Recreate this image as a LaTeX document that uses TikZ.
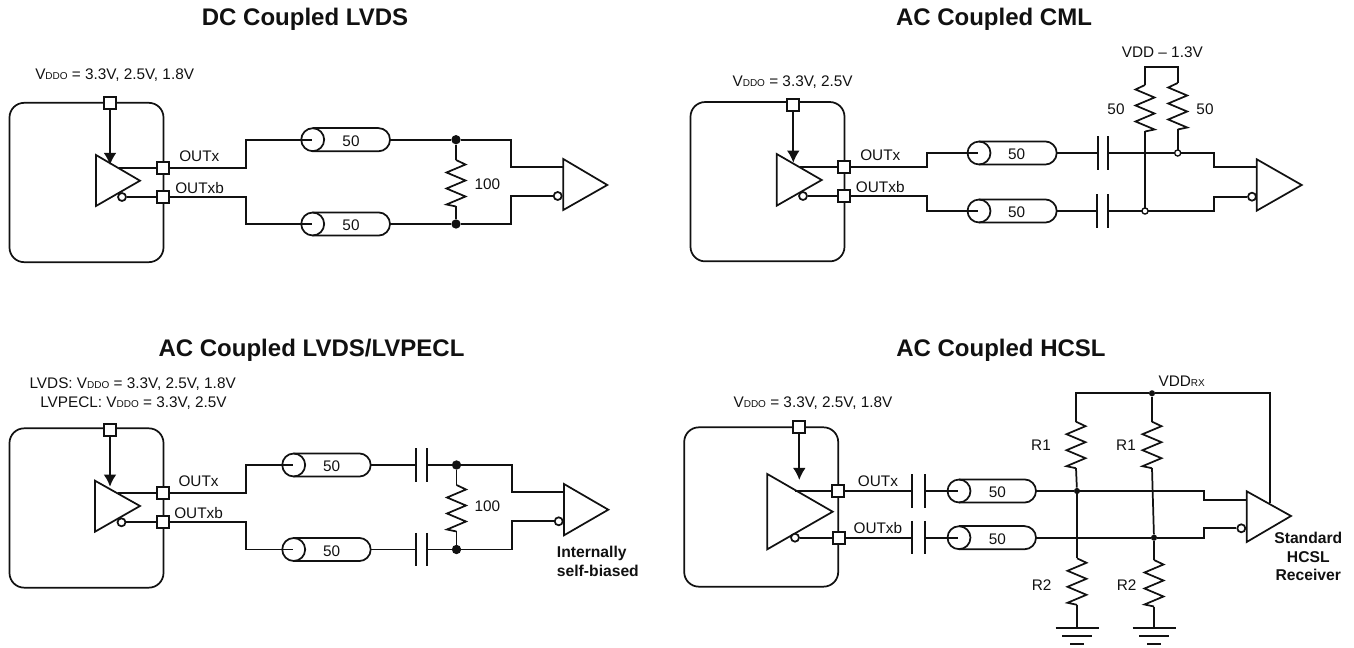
\documentclass[tikz,border=0pt]{standalone}
\usepackage{fontspec}
\setmainfont{Liberation Sans}
\usetikzlibrary{arrows.meta}
\definecolor{ink}{HTML}{111111}
\tikzset{
  x=0.75pt,y=-0.75pt,
  every node/.style={text=ink},
  wire/.style={draw=ink,line width=1.3pt,line join=miter},
  chip/.style={draw=ink,line width=1.3pt,rounded corners=11pt,minimum width=115.5pt,minimum height=119.5pt,inner sep=0pt},
  pin/.style={draw=ink,line width=1.3pt,fill=white,minimum size=9pt,inner sep=0pt},
  jdot/.style={circle,fill=ink,minimum size=7pt,inner sep=0pt},
  sdot/.style={circle,fill=ink,minimum size=4.6pt,inner sep=0pt},
  odot/.style={circle,draw=ink,line width=1pt,fill=white,minimum size=4.6pt,inner sep=0pt},
  bub/.style={circle,draw=ink,line width=1.3pt,fill=white,minimum size=6pt,inner sep=0pt},
  coaxc/.style={circle,draw=ink,line width=1.3pt,minimum size=17.2pt,inner sep=0pt},
  lab/.style={inner sep=0pt,font=\fontsize{11.5}{13}\selectfont,text height=8.2pt,text depth=0pt},
  labl/.style={lab,anchor=west},
  blab/.style={inner sep=0pt,font=\fontsize{11.75}{13}\selectfont\bfseries,text height=8.4pt,text depth=0pt},
  ttl/.style={inner sep=0pt,font=\fontsize{18}{21}\selectfont\bfseries,text height=12.9pt,text depth=0pt},
  arr/.style={wire,-{Latex[length=9pt,width=9.5pt]}},
}
\newcommand{\vddo}{V{\fontsize{7.5}{9}\selectfont DDO}}
% \Coax{name}{circle cx}{cy}{right end x}{text x}
\newcommand{\Coax}[5]{%
  \draw[wire] (#2,#3-11.6) -- (#4-11.6,#3-11.6) arc (90:-90:8.7pt) -- (#2,#3+11.6);
  \node[coaxc] (#1c) at (#2,#3) {};
  \coordinate (#1) at (#2-1,#3);
  \coordinate (#1o) at (#4,#3);
  \node[lab] (#1t) at (#5,#3+1.5) {50};
}
% \Res{name}{x}{y0}{side} zigzag 46.5 px long, first peak towards side (+1 right, -1 left)
\newcommand{\Res}[4]{%
  \coordinate (#1a) at (#2,#3);
  \coordinate (#1b) at (#2,#3+46.5);
  \draw[wire,line join=miter] (#1a) -- (#2+#4*9.5,#3+4.5) -- (#2-#4*9.5,#3+12.5) -- (#2+#4*9.5,#3+20.5) -- (#2-#4*9.5,#3+28.5) -- (#2+#4*9.5,#3+36.5) -- (#2-#4*9.5,#3+44.5) -- (#1b);
}
% \Cap{name}{x1}{x2}{y}
\newcommand{\CapC}[4]{%
  \coordinate (#1a) at (#2,#4);
  \coordinate (#1b) at (#3,#4);
  \draw[wire] (#2,#4-16.7) -- (#2,#4+16.7);
  \draw[wire] (#3,#4-16.7) -- (#3,#4+16.7);
}
% \Tri{name}{x}{top}{tipx}{tipy}{bot}
\newcommand{\Tri}[6]{%
  \coordinate (#1t) at (#2,#3);
  \coordinate (#1p) at (#4,#5);
  \coordinate (#1b) at (#2,#6);
  \draw[wire,line join=miter] (#1t) -- (#1p) -- (#1b) -- cycle;
}
\newcommand{\Gnd}[3]{%
  \coordinate (#1) at (#2,#3);
  \draw[wire] (#2-21.5,#3) -- (#2+21.5,#3);
  \draw[wire] (#2-15,#3+8) -- (#2+15,#3+8);
  \draw[wire] (#2-7,#3+15.7) -- (#2+7,#3+15.7);
}
\begin{document}
\begin{tikzpicture}
\useasboundingbox (0,0) rectangle (1354,648);
% ---------- Panel 1
\node[ttl] (t1) at (305,17) {DC Coupled LVDS};
\node[labl] (v1) at (35,74) {\vddo{} = 3.3V, 2.5V, 1.8V};
\node[chip] (b1) at (86.5,182.5) {};
\Tri{a1}{96}{155}{140}{180.7}{206}
\node[pin] (a1v) at (110,102.7) {};
\node[pin] (a1x) at (163,167.7) {};
\node[pin] (a1y) at (163,197) {};
\coordinate (a1i) at (119,167.7);
\node[bub] (a1n) at (122,197) {};
\draw[arr] (a1v) -- (110,165);
\draw[wire] (a1i) -- (a1x);
\draw[wire] (a1n) -- (a1y);
\node[labl] at (179,155.7) {OUTx};
\node[labl] at (175,188.3) {OUTxb};
\Coax{a1c}{312.7}{139.7}{390}{351}
\Coax{a1d}{312.7}{224}{390}{351}
\draw[wire] (a1x) -- (246,167.7) -- (246,139.7) -- (a1c);
\draw[wire] (a1y) -- (246,197) -- (246,224) -- (a1d);
\node[jdot] (a1j) at (456,139.7) {};
\node[jdot] (a1k) at (456,224) {};
\Res{a1r}{456}{160}{1}
\draw[wire] (a1j) -- (a1ra);
\draw[wire] (a1rb) -- (a1k);
\node[lab] at (487.3,184) {100};
\Tri{a2}{563.3}{159}{607.3}{185}{210}
\node[bub] (a2n) at (557.7,196) {};
\draw[wire] (a1co) -- (a1j) -- (511,139.7) -- (511,167) -- (563.3,167);
\draw[wire] (a1do) -- (a1k) -- (511,224) -- (511,196) -- (a2n);
% ---------- Panel 2
\node[ttl] (t2) at (994,17) {AC Coupled CML};
\node[labl] (v2) at (732.3,81) {\vddo{} = 3.3V, 2.5V};
\node[chip] (b2) at (767.5,181.7) {};
\Tri{b1t}{776.7}{154}{821.7}{180}{205.7}
\node[pin] (b1v) at (793.3,105.3) {};
\node[pin] (b1x) at (844.3,166.7) {};
\node[pin] (b1y) at (844.3,196) {};
\coordinate (b1i) at (800,166.7);
\node[bub] (b1n) at (803,196) {};
\draw[arr] (b1v) -- (793.3,162.7);
\draw[wire] (b1i) -- (b1x);
\draw[wire] (b1n) -- (b1y);
\node[labl] at (860,155) {OUTx};
\node[labl] at (855.7,186.7) {OUTxb};
\Coax{b1c}{979}{153}{1056.7}{1016.7}
\Coax{b1d}{979}{211}{1056.7}{1016.7}
\draw[wire] (b1x) -- (927,166.7) -- (927,153) -- (b1c);
\draw[wire] (b1y) -- (927,196) -- (927,211) -- (b1d);
\CapC{b1e}{1097.7}{1108.3}{153}
\CapC{b1f}{1097.3}{1107.7}{211}
\draw[wire] (b1co) -- (b1ea);
\draw[wire] (b1do) -- (b1fa);
\Tri{b2t}{1256.7}{159.3}{1301.7}{185}{210.7}
\node[bub] (b2n) at (1252,196.7) {};
\coordinate (b1jc) at (1177.7,153);
\coordinate (b1kc) at (1145,211);
\draw[wire] (b1eb) -- (b1jc) -- (1213.7,153) -- (1213.7,167.3) -- (1256.7,167.3);
\draw[wire] (b1fb) -- (b1kc) -- (1213.7,211) -- (1213.7,196.7) -- (b2n);
\Res{b1r}{1145}{85}{-1}
\Res{b1s}{1177.7}{83}{-1}
\draw[wire] (b1ra) -- (1145,67.3) -- (1177.7,67.3) -- (b1sa);
\draw[wire] (b1rb) -- (b1kc);
\draw[wire] (b1sb) -- (b1jc);
\node[odot] (b1j) at (b1jc) {};
\node[odot] (b1k) at (b1kc) {};
\node[lab] at (1162.3,51.7) {VDD – 1.3V};
\node[lab] at (1116,109) {50};
\node[lab] at (1205,109) {50};
% ---------- Panel 3
\node[ttl] (t3) at (311.5,348) {AC Coupled LVDS/LVPECL};
\node[labl] (v3) at (29.3,382.7) {LVDS: \vddo{} = 3.3V, 2.5V, 1.8V};
\node[labl] (v4) at (40,401.7) {LVPECL: \vddo{} = 3.3V, 2.5V};
\node[chip] (b3) at (86.5,508) {};
\Tri{c1t}{95}{480.7}{140}{506}{531.7}
\node[pin] (c1v) at (110,430) {};
\node[pin] (c1x) at (163,492.7) {};
\node[pin] (c1y) at (163,522.3) {};
\coordinate (c1i) at (118,492.7);
\node[bub] (c1n) at (121.5,522.3) {};
\draw[arr] (c1v) -- (110,486.7);
\draw[wire] (c1i) -- (c1x);
\draw[wire] (c1n) -- (c1y);
\node[labl] at (178.3,481) {OUTx};
\node[labl] at (174,512.7) {OUTxb};
\Coax{c1c}{293.7}{465}{370.7}{331.7}
\Coax{c1d}{293.7}{549.5}{370.7}{331.7}
\draw[wire] (c1x) -- (245.7,492.7) -- (245.7,465) -- (c1c);
\draw[wire] (c1y) -- (245.7,522.3) -- (245.7,549.5) -- (c1d);
\CapC{c1e}{416.3}{427.3}{465}
\CapC{c1f}{415.7}{426.7}{549.5}
\draw[wire] (c1co) -- (c1ea);
\draw[wire] (c1do) -- (c1fa);
\node[jdot] (c1j) at (456.5,465) {};
\node[jdot] (c1k) at (456.5,549.5) {};
\Res{c1r}{456.5}{485}{1}
\draw[wire] (c1j) -- (c1ra);
\draw[wire] (c1rb) -- (c1k);
\node[lab] at (487.3,506) {100};
\Tri{c2t}{564}{484}{608.3}{509.7}{535.3}
\node[bub] (c2n) at (558.7,521.3) {};
\draw[wire] (c1eb) -- (c1j) -- (512.3,465) -- (512.3,492.3) -- (564,492.3);
\draw[wire] (c1fb) -- (c1k) -- (512.3,549.5) -- (512.3,521.3) -- (c2n);
\node[blab,anchor=west] at (556.7,552.3) {Internally};
\node[blab,anchor=west] at (556.7,570.7) {self-biased};
% ---------- Panel 4
\node[ttl] (t4) at (1001,348) {AC Coupled HCSL};
\node[labl] (v5) at (733.3,401.7) {\vddo{} = 3.3V, 2.5V, 1.8V};
\node[chip] (b4) at (761.2,507) {};
\Tri{d1t}{767.3}{474}{832.7}{511.7}{549.3}
\node[pin] (d1v) at (799.3,427.3) {};
\node[pin] (d1x) at (838,491) {};
\node[pin] (d1y) at (839.3,537.7) {};
\coordinate (d1i) at (795,491);
\node[bub] (d1n) at (795,537.7) {};
\draw[arr] (d1v) -- (799.3,480);
\draw[wire] (d1i) -- (d1x);
\draw[wire] (d1n) -- (d1y);
\node[labl] at (857.7,480.7) {OUTx};
\node[labl] at (853.3,527.7) {OUTxb};
\CapC{d1e}{911.7}{925.3}{491}
\CapC{d1f}{911.7}{925.3}{537.7}
\draw[wire] (d1x) -- (d1ea);
\draw[wire] (d1y) -- (d1fa);
\Coax{d1c}{959}{491}{1036}{997.3}
\Coax{d1d}{959}{537.7}{1036}{997.3}
\draw[wire] (d1eb) -- (d1c);
\draw[wire] (d1fb) -- (d1d);
\Tri{d2t}{1246.7}{491.3}{1291}{516}{542}
\node[bub] (d2n) at (1241.3,528.3) {};
\node[sdot] (d1p) at (1077,491) {};
\node[sdot] (d1q) at (1154,537.7) {};
\node[sdot] (d1r) at (1152,393.3) {};
\draw[wire] (d1co) -- (d1p) -- (1204,491) -- (1204,500) -- (1246.7,500);
\draw[wire] (d1do) -- (d1q) -- (1204,537.7) -- (1204,528.3) -- (d2n);
\Res{d1s}{1076}{421.7}{1}
\Res{d1u}{1152}{421.7}{1}
\Res{d1v}{1077}{558.3}{1}
\Res{d1w}{1154}{560}{1}
\draw[wire] (d1sa) -- (1076,393.3) -- (d1r) -- (1270,393.3) -- (1270,502.7);
\draw[wire] (d1r) -- (d1ua);
\draw[wire] (d1sb) -- (d1p);
\draw[wire] (d1ub) -- (d1q);
\draw[wire] (d1p) -- (d1va);
\draw[wire] (d1q) -- (d1wa);
\Gnd{g1}{1077}{628.3}
\Gnd{g2}{1154}{628.3}
\draw[wire] (d1vb) -- (g1);
\draw[wire] (d1wb) -- (g2);
\node[lab] at (1041,445) {R1};
\node[lab] at (1126,445) {R1};
\node[lab] at (1041.7,585) {R2};
\node[lab] at (1126.7,585) {R2};
\node[lab] at (1181.7,381) {VDD{\fontsize{7.5}{9}\selectfont RX}};
\node[blab] at (1308.3,537.7) {Standard};
\node[blab] at (1308.3,556.7) {HCSL};
\node[blab] at (1308.3,575) {Receiver};
\end{tikzpicture}
\end{document}
